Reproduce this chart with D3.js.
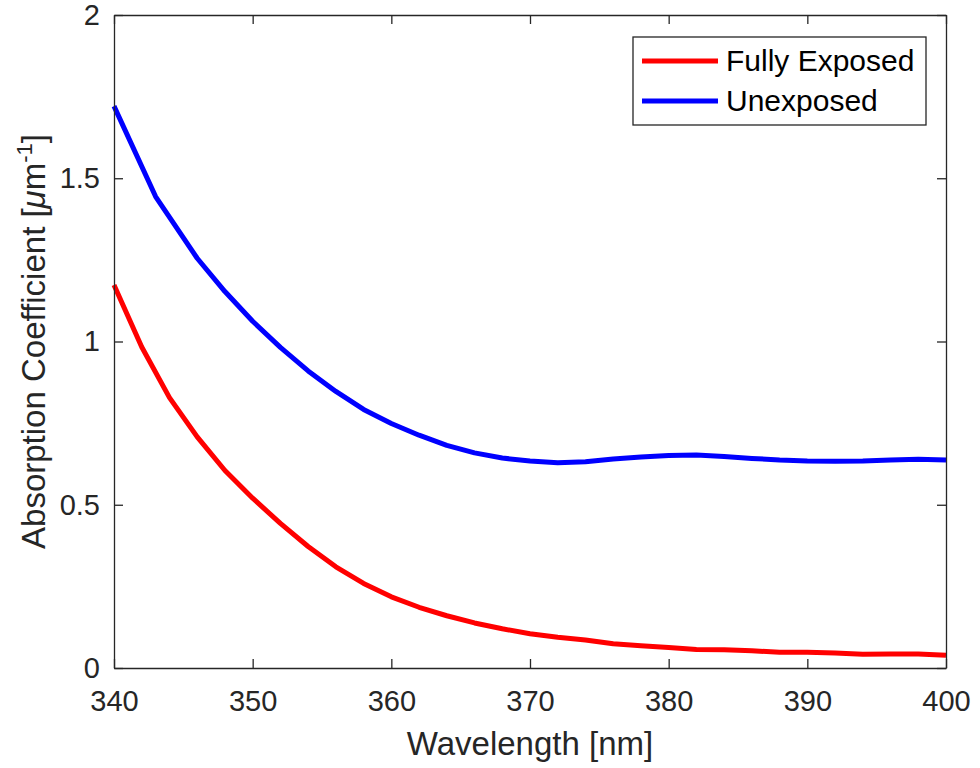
<!DOCTYPE html>
<html>
<head>
<meta charset="utf-8">
<script src="https://cdn.jsdelivr.net/npm/d3@7"></script>
<style>
  body { margin: 0; background: #fff; }
  text { font-family: "Liberation Sans", Arial, sans-serif; fill: #262626; }
</style>
</head>
<body>
<script>
// Chart data
const wlExposed = [340, 342, 344, 346, 348, 350, 352, 354, 356, 358, 360, 362, 364, 366, 368, 370,
  372, 374, 376, 378, 380, 382, 384, 386, 388, 390, 392, 394, 396, 398, 400];
const fullyExposed = [1.173, 0.983, 0.828, 0.708, 0.605, 0.52, 0.443, 0.372, 0.31, 0.259, 0.218, 0.186,
  0.16, 0.138, 0.12, 0.105, 0.094, 0.086, 0.074, 0.068, 0.063, 0.057, 0.056, 0.053, 0.048, 0.048,
  0.046, 0.042, 0.043, 0.043, 0.039];

const wlUnexposed = [340, 343, 346, 348, 350, 352, 354, 356, 358, 360, 362, 364, 366, 368, 370, 372,
  374, 376, 378, 380, 382, 384, 386, 388, 390, 392, 394, 396, 398, 400];
const unexposed = [1.721, 1.444, 1.255, 1.153, 1.062, 0.982, 0.91, 0.847, 0.792, 0.749, 0.713, 0.682,
  0.659, 0.643, 0.634, 0.629, 0.632, 0.64, 0.646, 0.651, 0.652, 0.648, 0.642, 0.637, 0.634, 0.633,
  0.634, 0.637, 0.639, 0.637];

const xTicks = [340, 350, 360, 370, 380, 390, 400];
const yTicks = [0, 0.5, 1, 1.5, 2];
const seriesNames = ['Fully Exposed', 'Unexposed'];
const seriesColors = ['#ff0000', '#0000ff'];

const width = 980, height = 768;
const margin = { top: 15, right: 34, bottom: 100, left: 114 };
const innerW = width - margin.left - margin.right;
const innerH = height - margin.top - margin.bottom;

const svg = d3.select('body').append('svg')
  .attr('width', width)
  .attr('height', height);

const x = d3.scaleLinear().domain([340, 400]).range([0, innerW]);
const y = d3.scaleLinear().domain([0, 2]).range([innerH, 0]);

const g = svg.append('g').attr('transform', `translate(${margin.left},${margin.top})`);

// lines
const series = [
  { name: seriesNames[0], xs: wlExposed, ys: fullyExposed, color: seriesColors[0] },
  { name: seriesNames[1], xs: wlUnexposed, ys: unexposed, color: seriesColors[1] }
];
const line = d3.line().x(d => x(d[0])).y(d => y(d[1]));

series.forEach(s => {
  g.append('path')
    .datum(d3.zip(s.xs, s.ys))
    .attr('d', line)
    .attr('fill', 'none')
    .attr('stroke', s.color)
    .attr('stroke-width', 5)
    .attr('stroke-linejoin', 'round');
});

// axes (MATLAB style: inward ticks, box with mirrored ticks)
const tickLen = 9;
const styleAxis = sel => {
  sel.select('.domain').attr('stroke', '#262626').attr('stroke-width', 1.3);
  sel.selectAll('.tick line').attr('stroke', '#262626').attr('stroke-width', 1.3);
  sel.selectAll('.tick text').style('font-size', '29px').attr('fill', '#262626');
};

g.append('g')
  .attr('transform', `translate(0,${innerH})`)
  .call(d3.axisBottom(x).tickValues(xTicks).tickSizeInner(-tickLen).tickSizeOuter(0).tickPadding(22))
  .call(styleAxis);

g.append('g')
  .call(d3.axisTop(x).tickValues(xTicks).tickSizeInner(-tickLen).tickSizeOuter(0).tickFormat(''))
  .call(styleAxis);

g.append('g')
  .call(d3.axisLeft(y).tickValues(yTicks).tickSizeInner(-tickLen).tickSizeOuter(0).tickPadding(14)
    .tickFormat(d => d === 0 ? '0' : d3.format('')(d)))
  .call(styleAxis);

g.append('g')
  .attr('transform', `translate(${innerW},0)`)
  .call(d3.axisRight(y).tickValues(yTicks).tickSizeInner(-tickLen).tickSizeOuter(0).tickFormat(''))
  .call(styleAxis);

// axis labels
svg.append('text')
  .attr('x', margin.left + innerW / 2)
  .attr('y', 755)
  .attr('text-anchor', 'middle')
  .style('font-size', '33px')
  .text('Wavelength [nm]');

const yLabel = svg.append('text')
  .attr('transform', `translate(45,${margin.top + innerH / 2}) rotate(-90)`)
  .attr('text-anchor', 'middle')
  .style('font-size', '33px');
yLabel.append('tspan').text('Absorption Coefficient [');
yLabel.append('tspan').style('font-style', 'italic').text('μ');
yLabel.append('tspan').text('m');
yLabel.append('tspan').attr('dy', -13).style('font-size', '22px').text('-1');
yLabel.append('tspan').attr('dy', 13).text(']');

// legend
const lg = svg.append('g').attr('transform', 'translate(633,37)');
lg.append('rect')
  .attr('width', 293).attr('height', 88)
  .attr('fill', '#fff')
  .attr('stroke', '#262626').attr('stroke-width', 1.3);

series.forEach((s, i) => {
  const ly = 24 + i * 40;
  lg.append('line')
    .attr('x1', 9).attr('x2', 85)
    .attr('y1', ly).attr('y2', ly)
    .attr('stroke', s.color).attr('stroke-width', 5);
  lg.append('text')
    .attr('x', 93).attr('y', ly + 10)
    .style('font-size', '30px')
    .style('fill', '#000')
    .text(s.name);
});
</script>
</body>
</html>
